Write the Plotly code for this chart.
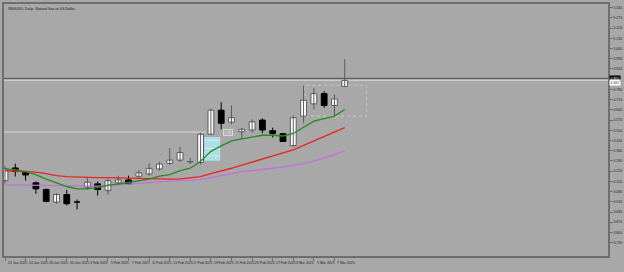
import plotly.graph_objects as go

# ---- data ----
dates = ["22 Jan 2025", "23 Jan 2025", "24 Jan 2025", "27 Jan 2025", "28 Jan 2025", "29 Jan 2025",
         "30 Jan 2025", "31 Jan 2025", "3 Feb 2025", "4 Feb 2025", "5 Feb 2025", "6 Feb 2025",
         "7 Feb 2025", "10 Feb 2025", "11 Feb 2025", "12 Feb 2025", "13 Feb 2025", "14 Feb 2025",
         "17 Feb 2025", "18 Feb 2025", "19 Feb 2025", "20 Feb 2025", "21 Feb 2025", "24 Feb 2025",
         "25 Feb 2025", "26 Feb 2025", "27 Feb 2025", "28 Feb 2025", "3 Mar 2025", "4 Mar 2025",
         "5 Mar 2025", "6 Mar 2025", "7 Mar 2025", "10 Mar 2025"]

opens = [4.155, 4.242, 4.212, 4.140, 4.094, 4.008, 4.060, 4.009, 4.110, 4.133, 4.087, 4.140,
         4.160, 4.185, 4.201, 4.235, 4.273, 4.296, 4.284, 4.280, 4.473, 4.638, 4.556, 4.490,
         4.502, 4.570, 4.497, 4.477, 4.395, 4.597, 4.681, 4.751, 4.670, 4.801]
highs = [4.257, 4.271, 4.223, 4.149, 4.101, 4.069, 4.092, 4.026, 4.178, 4.149, 4.169, 4.189,
         4.189, 4.228, 4.273, 4.284, 4.378, 4.387, 4.310, 4.484, 4.647, 4.692, 4.670, 4.516,
         4.575, 4.582, 4.518, 4.482, 4.602, 4.806, 4.789, 4.767, 4.745, 4.987]
lows = [4.135, 4.183, 4.155, 4.065, 4.006, 3.997, 3.986, 3.958, 4.092, 4.053, 4.060, 4.128,
        4.128, 4.167, 4.189, 4.223, 4.264, 4.284, 4.269, 4.264, 4.468, 4.507, 4.541, 4.439,
        4.484, 4.480, 4.450, 4.420, 4.390, 4.548, 4.643, 4.654, 4.597, 4.801]
closes = [4.237, 4.217, 4.194, 4.099, 4.013, 4.060, 3.997, 4.008, 4.144, 4.094, 4.155, 4.160,
          4.133, 4.208, 4.239, 4.269, 4.296, 4.348, 4.284, 4.473, 4.638, 4.548, 4.586, 4.507,
          4.558, 4.502, 4.477, 4.423, 4.586, 4.706, 4.751, 4.670, 4.715, 4.842]

ma_fast = [4.234, 4.230, 4.217, 4.196, 4.166, 4.142, 4.115, 4.099, 4.099, 4.108, 4.125, 4.132,
           4.142, 4.152, 4.166, 4.186, 4.196, 4.223, 4.240, 4.288, 4.356, 4.393, 4.427, 4.441,
           4.454, 4.466, 4.466, 4.461, 4.478, 4.522, 4.563, 4.580, 4.597, 4.643]
ma_mid = [4.223, 4.221, 4.219, 4.213, 4.203, 4.189, 4.182, 4.179, 4.178, 4.176, 4.176, 4.174,
          4.169, 4.167, 4.167, 4.167, 4.166, 4.167, 4.172, 4.182, 4.203, 4.220, 4.240, 4.261,
          4.281, 4.301, 4.322, 4.342, 4.366, 4.397, 4.427, 4.458, 4.488, 4.518]
ma_slow = [4.126, 4.125, 4.124, 4.123, 4.121, 4.119, 4.117, 4.117, 4.117, 4.118, 4.121, 4.126,
           4.132, 4.137, 4.145, 4.150, 4.153, 4.157, 4.159, 4.162, 4.176, 4.189, 4.203, 4.217,
           4.223, 4.234, 4.240, 4.248, 4.257, 4.271, 4.288, 4.308, 4.332, 4.359]

price_ticks = [5.340, 5.270, 5.200, 5.130, 5.060, 4.990, 4.920, 4.780, 4.710, 4.640, 4.570,
               4.500, 4.430, 4.360, 4.290, 4.220, 4.150, 4.080, 4.010, 3.940, 3.870, 3.800, 3.730]

title_text = "XNGUSD, Daily:  Natural Gas vs US Dollar"
bid_price = 4.855
ask_price = 4.842
hline_price = 4.488
hline_label = "1.33"

# ---- figure ----
idx = list(range(1, len(dates) + 1))
BG = "rgb(168,168,168)"
FRAME = "rgb(110,110,110)"
UP_LINE = "rgb(90,90,90)"

fig = go.Figure()

up = [i for i in range(len(idx)) if closes[i] >= opens[i]]
dn = [i for i in range(len(idx)) if closes[i] < opens[i]]

def wick_xy(sel):
    xs, ys = [], []
    for i in sel:
        xs += [idx[i], idx[i], None]
        ys += [lows[i], highs[i], None]
    return xs, ys

for sel, col in [(up, UP_LINE), (dn, "black")]:
    wx, wy = wick_xy(sel)
    fig.add_trace(go.Scatter(x=wx, y=wy, mode="lines", line=dict(color=col, width=1),
                             showlegend=False, hoverinfo="skip"))

for sel, fill, lc in [(up, "white", UP_LINE), (dn, "black", "black")]:
    fig.add_trace(go.Bar(
        x=[idx[i] for i in sel],
        y=[max(abs(closes[i] - opens[i]), 0.0015) for i in sel],
        base=[min(opens[i], closes[i]) for i in sel],
        width=0.56, marker=dict(color=fill, line=dict(color=lc, width=1)),
        showlegend=False, hoverinfo="skip"))

for vals, col in [(ma_slow, "rgb(196,112,214)"), (ma_mid, "rgb(232,36,36)"), (ma_fast, "rgb(34,140,34)")]:
    fig.add_trace(go.Scatter(x=idx, y=vals, mode="lines", line=dict(color=col, width=1.3),
                             showlegend=False, hoverinfo="skip"))

xr = [0.903, 59.57]
shapes = []
shapes.append(dict(type="rect", xref="x", yref="y", x0=20.36, x1=21.9, y0=4.291, y1=4.454,
                   fillcolor="rgb(172,222,230)", line=dict(width=0), layer="below"))
for yv in [4.431, 4.376, 4.325]:
    shapes.append(dict(type="line", xref="x", yref="y", x0=20.36, x1=21.9, y0=yv, y1=yv,
                       line=dict(color="rgb(205,238,243)", width=1), layer="below"))
shapes.append(dict(type="rect", xref="x", yref="y", x0=30.14, x1=36.14, y0=4.597, y1=4.808,
                   line=dict(color="rgb(200,200,200)", width=1, dash="dot"), layer="below"))
shapes.append(dict(type="line", xref="x", yref="y", x0=xr[0], x1=20.55, y0=hline_price, y1=hline_price,
                   line=dict(color="rgb(215,215,215)", width=1), layer="below"))
shapes.append(dict(type="line", xref="paper", yref="y", x0=0, x1=1, y0=bid_price, y1=bid_price,
                   line=dict(color="rgb(95,95,95)", width=1.3), layer="below"))
shapes.append(dict(type="line", xref="paper", yref="y", x0=0, x1=1, y0=ask_price, y1=ask_price,
                   line=dict(color="rgb(210,210,210)", width=1), layer="below"))

annotations = []
for i in range(0, len(dates), 2):
    annotations.append(dict(x=idx[i], xref="x", y=0, yref="paper", text=dates[i], showarrow=False,
                            xanchor="left", yanchor="top", yshift=-3, xshift=1,
                            font=dict(size=3.5, color="rgb(30,30,30)", family="Arial")))
annotations.append(dict(x=0.004, xref="paper", y=1, yref="paper", text=title_text, showarrow=False,
                        xanchor="left", yanchor="top", yshift=-0.5,
                        font=dict(size=3.5, color="rgb(20,20,20)", family="Arial")))
annotations.append(dict(x=22.7, xref="x", y=hline_price, yref="y", text=hline_label, showarrow=False,
                        bgcolor="rgb(175,175,175)", bordercolor="rgb(215,215,215)", borderwidth=1,
                        borderpad=0.5, font=dict(size=3.5, color="rgb(225,225,225)", family="Arial")))
annotations.append(dict(x=1, xref="paper", y=bid_price, yref="y", text=f"{bid_price:.3f}", showarrow=False,
                        xanchor="left", xshift=1, bgcolor="black", borderpad=0.5,
                        font=dict(size=3.5, color="white", family="Arial")))
annotations.append(dict(x=1, xref="paper", y=ask_price - 0.012, yref="y", text=f"{ask_price:.3f}", showarrow=False,
                        xanchor="left", xshift=1, bgcolor="white", borderpad=0.5,
                        font=dict(size=3.5, color="rgb(60,60,60)", family="Arial")))

fig.update_layout(
    width=624, height=272,
    margin=dict(l=2, r=16, t=2, b=16),
    paper_bgcolor=BG, plot_bgcolor=BG,
    barmode="overlay",
    shapes=shapes, annotations=annotations,
    xaxis=dict(range=xr, showgrid=False, zeroline=False,
               tickvals=idx[::2], ticks="outside", ticklen=3, tickcolor=FRAME, showticklabels=False,
               showline=True, linecolor=FRAME, linewidth=1.5, mirror=True),
    yaxis=dict(range=[3.6389, 5.3651], side="right", showgrid=False, zeroline=False,
               tickvals=price_ticks, ticktext=[f"{v:.3f}" for v in price_ticks],
               ticks="outside", ticklen=3, tickcolor=FRAME,
               tickfont=dict(size=3.5, color="rgb(30,30,30)", family="Arial"),
               showline=True, linecolor=FRAME, linewidth=1.5, mirror=True),
)

fig.write_html("out.html")
